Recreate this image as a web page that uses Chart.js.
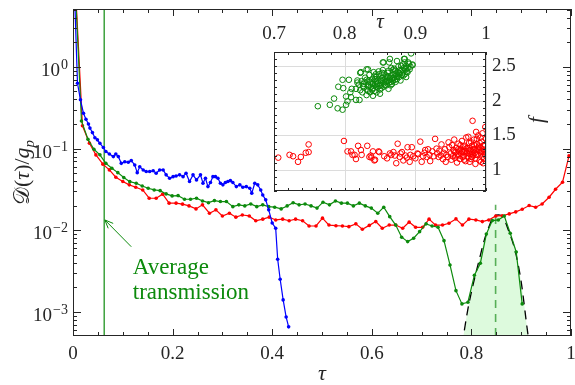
<!DOCTYPE html>
<html>
<head>
<meta charset="utf-8">
<script src="https://cdn.jsdelivr.net/npm/chart.js@4.4.1/dist/chart.umd.min.js"></script>
<style>
  html, body { margin: 0; padding: 0; background: #fff; }
  #wrap { position: relative; width: 575px; height: 385px; }
  #wrap canvas { position: absolute; left: 0; top: 0; }
</style>
</head>
<body>
<div id="wrap">
  <canvas id="main" width="575" height="385"></canvas>
  <canvas id="inset" width="575" height="385"></canvas>
</div>
<script>
// main panel data
const blueTau = [0.003, 0.009, 0.015, 0.021, 0.026, 0.031, 0.034, 0.039, 0.044, 0.049, 0.054, 0.061, 0.066, 0.073,
  0.081, 0.086, 0.091, 0.097, 0.104, 0.111, 0.117, 0.124, 0.129, 0.134, 0.141, 0.147, 0.154, 0.161, 0.167, 0.174,
  0.181, 0.187, 0.194, 0.201, 0.207, 0.214, 0.221, 0.227, 0.234, 0.241, 0.248, 0.256, 0.261, 0.266, 0.271, 0.276,
  0.281, 0.286, 0.291, 0.296, 0.301, 0.306, 0.311, 0.316, 0.321, 0.328, 0.335, 0.341, 0.348, 0.355, 0.359, 0.365,
  0.371, 0.377, 0.381, 0.387, 0.393, 0.400, 0.407, 0.411, 0.416, 0.422, 0.428, 0.433];
const blueVal = [8, 0.63, 0.395, 0.271, 0.229, 0.200, 0.178, 0.157, 0.136, 0.128, 0.116, 0.103, 0.092, 0.086,
  0.0798, 0.086, 0.0798, 0.066, 0.069, 0.068, 0.0713, 0.063, 0.0508, 0.060, 0.0548, 0.0524, 0.0524, 0.0535, 0.050, 0.0548,
  0.0548, 0.0477, 0.0434, 0.0454, 0.0463, 0.0477, 0.0454, 0.050, 0.0395, 0.0477, 0.0414, 0.0477, 0.0377, 0.0434, 0.0343, 0.0384,
  0.0454, 0.0454, 0.0434, 0.0377, 0.0360, 0.0384, 0.0395, 0.0406, 0.0384, 0.0343, 0.0360, 0.0337, 0.0343, 0.0327, 0.0285, 0.0377,
  0.0360, 0.0312, 0.0271, 0.0236, 0.0178, 0.0123, 0.0106, 0.00443, 0.00252, 0.00141, 0.00087, 0.00066];

const greenTau = [0.005, 0.017, 0.030, 0.042, 0.054, 0.066, 0.078, 0.090, 0.102, 0.114, 0.127, 0.139, 0.151, 0.163, 0.175,
  0.187, 0.199, 0.211, 0.224, 0.236, 0.248, 0.260, 0.272, 0.284, 0.296, 0.308, 0.321, 0.333, 0.345, 0.357, 0.369,
  0.381, 0.393, 0.405, 0.418, 0.430, 0.442, 0.454, 0.466, 0.478, 0.490, 0.502, 0.515, 0.527, 0.539, 0.551, 0.563,
  0.575, 0.587, 0.599, 0.612, 0.624, 0.636, 0.648, 0.660, 0.672, 0.684, 0.696, 0.709, 0.721, 0.733, 0.745, 0.757,
  0.769, 0.781, 0.793, 0.806, 0.818, 0.830, 0.842, 0.854, 0.866, 0.878, 0.890, 0.902];
const greenVal = [8, 0.218, 0.130, 0.098, 0.084, 0.066, 0.0575, 0.0508, 0.0442, 0.0394, 0.0377, 0.0349, 0.0327, 0.0312, 0.0306,
  0.0279, 0.0264, 0.0266, 0.0240, 0.0240, 0.0247, 0.0229, 0.0218, 0.0231, 0.0225, 0.0225, 0.0195, 0.0205, 0.0199, 0.0210, 0.0195,
  0.0205, 0.0195, 0.0192, 0.0183, 0.0199, 0.0218, 0.0205, 0.0210, 0.0199, 0.0187, 0.0221, 0.0205, 0.0229, 0.0215, 0.0215, 0.0199,
  0.0215, 0.0199, 0.0187, 0.0162, 0.0192, 0.0147, 0.0116, 0.00824, 0.00728, 0.0080, 0.00964, 0.0120, 0.0113, 0.0109, 0.00748, 0.00377,
  0.00183, 0.00126, 0.00132, 0.00282, 0.00396, 0.0090, 0.01315, 0.0134, 0.0150, 0.0092, 0.00544, 0.00126];

const redTau = [0.005, 0.019, 0.033, 0.046, 0.060, 0.073, 0.086, 0.100, 0.113, 0.126, 0.140, 0.153, 0.167, 0.180, 0.193,
  0.207, 0.220, 0.233, 0.247, 0.260, 0.274, 0.287, 0.300, 0.314, 0.327, 0.340, 0.354, 0.367, 0.381, 0.394, 0.407,
  0.421, 0.434, 0.447, 0.461, 0.474, 0.488, 0.501, 0.514, 0.528, 0.541, 0.554, 0.568, 0.581, 0.595, 0.608, 0.621,
  0.635, 0.648, 0.662, 0.675, 0.688, 0.702, 0.715, 0.728, 0.742, 0.755, 0.769, 0.782, 0.795, 0.809, 0.822, 0.835,
  0.849, 0.862, 0.876, 0.889, 0.902, 0.916, 0.929, 0.942, 0.956, 0.969, 0.983, 0.996];
const redVal = [9, 0.190, 0.1165, 0.0837, 0.0645, 0.0549, 0.0446, 0.0395, 0.0360, 0.0337, 0.0312, 0.0247, 0.0247, 0.0277, 0.0215,
  0.0215, 0.0209, 0.0199, 0.0183, 0.0205, 0.0162, 0.0178, 0.0150, 0.0162, 0.0145, 0.0154, 0.0150, 0.0131, 0.0137, 0.0145, 0.0134,
  0.0137, 0.0131, 0.0137, 0.0131, 0.0113, 0.0113, 0.0141, 0.0116, 0.0114, 0.0113, 0.0111, 0.0120, 0.0103, 0.0115, 0.0128, 0.0106,
  0.0116, 0.0116, 0.0106, 0.0126, 0.0109, 0.0109, 0.0137, 0.0116, 0.0116, 0.0122, 0.0138, 0.0116, 0.0137, 0.0134, 0.0128, 0.0134,
  0.0150, 0.0151, 0.0159, 0.0168, 0.0181, 0.0201, 0.0192, 0.0210, 0.0254, 0.0318, 0.0388, 0.0814];

// dashed fit around the peak
const fitTau = [0.776, 0.784, 0.7926, 0.804, 0.814, 0.826, 0.8374, 0.843, 0.8486, 0.855, 0.862, 0.8754, 0.8874, 0.8994, 0.914, 0.922];
const fitVal = [2.6e-4, 5.1e-4, 1.06e-3, 2.25e-3, 3.96e-3, 7.63e-3, 0.0120, 0.0143, 0.0154, 0.0155, 0.0149, 0.00964, 0.00575, 0.00247, 5.1e-4, 2.5e-4];

const avgTau = 0.0626;
const peakTau = 0.8486;
const peakLineTop = 0.0205;
const yMin = 5.1e-4;
const yMax = 5.1;

const xTickVals = [0, 0.2, 0.4, 0.6, 0.8, 1];
const xTickText = ['0', '0.2', '0.4', '0.6', '0.8', '1'];
const yTickVals = [1, 0.1, 0.01, 0.001];
const yTickExp = ['0', '\u22121', '\u22122', '\u22123'];

// annotation (data coordinates)
const arrowFrom = [0.117, 0.0063];
const arrowTo = [0.064, 0.0134];
const noteTau = 0.12;
const noteLines = ['Average', 'transmission'];
const noteVals = [0.00348, 0.00172];

// inset data
const insetGreenTau = [0.762, 0.779, 0.785, 0.790, 0.797, 0.791, 0.798, 0.797, 0.806, 0.802, 0.804, 0.802, 0.808, 0.810, 0.809,
  0.816, 0.821, 0.816, 0.818, 0.818, 0.822, 0.823, 0.826, 0.831, 0.833, 0.840, 0.850, 0.854, 0.855, 0.863, 0.864, 0.874,
  0.884, 0.885, 0.890, 0.896, 0.896, 0.887, 0.894,
  0.825, 0.827, 0.828, 0.829, 0.831, 0.832, 0.833, 0.834, 0.835, 0.836, 0.837, 0.838, 0.839, 0.840, 0.841, 0.842, 0.843,
  0.844, 0.845, 0.846, 0.847, 0.848, 0.849, 0.850, 0.851, 0.852, 0.853, 0.854, 0.855, 0.856, 0.857, 0.858, 0.859, 0.860,
  0.861, 0.862, 0.863, 0.864, 0.865, 0.866, 0.867, 0.868, 0.869, 0.870, 0.871, 0.872, 0.873, 0.874, 0.875, 0.876, 0.877,
  0.878, 0.879, 0.880, 0.881, 0.882, 0.883, 0.884, 0.885, 0.886, 0.887, 0.888, 0.889, 0.891, 0.892, 0.893,
  0.836, 0.840, 0.843, 0.846, 0.849, 0.852, 0.854, 0.857, 0.860, 0.863, 0.866, 0.869, 0.872, 0.875, 0.878, 0.842, 0.848,
  0.856, 0.862, 0.868, 0.834, 0.839, 0.845, 0.851, 0.858, 0.865, 0.871, 0.877, 0.883, 0.889, 0.827, 0.831, 0.833, 0.844,
  0.853, 0.861, 0.870, 0.880, 0.885, 0.822, 0.824, 0.820];
const insetGreenF = [1.92, 1.94, 2.03, 1.89, 1.87, 2.20, 2.18, 2.30, 2.30, 2.06, 1.99, 1.94, 2.12, 2.17, 2.05,
  2.01, 2.01, 2.17, 2.26, 2.29, 2.40, 2.41, 2.21, 2.45, 2.45, 2.07, 2.10, 2.55, 2.55, 2.55, 2.60, 2.57,
  2.60, 2.60, 2.55, 2.51, 2.52, 2.34, 2.68,
  2.12, 2.19, 2.27, 2.33, 2.08, 2.16, 2.23, 2.29, 2.37, 2.12, 2.20, 2.25, 2.31, 2.18, 2.41, 2.14, 2.22,
  2.28, 2.34, 2.19, 2.26, 2.30, 2.38, 2.16, 2.23, 2.28, 2.33, 2.44, 2.20, 2.25, 2.31, 2.36, 2.22, 2.28,
  2.40, 2.17, 2.26, 2.32, 2.35, 2.47, 2.24, 2.29, 2.38, 2.33, 2.43, 2.27, 2.36, 2.31, 2.41, 2.49, 2.34,
  2.39, 2.29, 2.44, 2.37, 2.52, 2.42, 2.47, 2.38, 2.45, 2.50, 2.42, 2.47, 2.53, 2.45, 2.49,
  2.27, 2.24, 2.31, 2.24, 2.21, 2.18, 2.29, 2.22, 2.34, 2.30, 2.27, 2.33, 2.39, 2.35, 2.44, 2.35, 2.42,
  2.39, 2.43, 2.44, 2.20, 2.16, 2.12, 2.30, 2.27, 2.22, 2.30, 2.40, 2.36, 2.41, 2.24, 2.30, 2.14, 2.38,
  2.40, 2.35, 2.46, 2.50, 2.55, 2.15, 2.28, 2.23];

const insetRedTau = [0.706, 0.722, 0.727, 0.734, 0.738, 0.745, 0.749, 0.749,
  0.799, 0.804, 0.809, 0.811, 0.814, 0.816, 0.819, 0.823, 0.824, 0.832, 0.835, 0.837, 0.838, 0.840, 0.842, 0.843, 0.848,
  0.849, 0.856, 0.860, 0.864, 0.866, 0.869, 0.871, 0.873, 0.875, 0.878, 0.879, 0.881, 0.883, 0.886, 0.888, 0.889, 0.892,
  0.893, 0.895, 0.897, 0.900, 0.903, 0.904, 0.907, 0.909, 0.911, 0.913, 0.914, 0.916, 0.918, 0.920, 0.921, 0.924, 0.926,
  0.928, 0.930, 0.931, 0.933, 0.934, 0.936, 0.937, 0.939, 0.940, 0.942, 0.944, 0.946, 0.948, 0.947, 0.943,
  0.950, 0.951, 0.952, 0.953, 0.954, 0.955, 0.956, 0.957, 0.958, 0.959, 0.960, 0.961, 0.962, 0.963, 0.964, 0.965, 0.966,
  0.967, 0.968, 0.969, 0.970, 0.971, 0.972, 0.973, 0.974, 0.975, 0.976, 0.977, 0.978, 0.979, 0.980, 0.981, 0.981, 0.982,
  0.983, 0.984, 0.985, 0.986, 0.987, 0.988, 0.989, 0.990, 0.991, 0.992, 0.993, 0.994, 0.995, 0.996, 0.996, 0.997, 0.998,
  0.999, 0.999, 1.000, 1.000,
  0.962, 0.966, 0.970, 0.974, 0.978, 0.982, 0.986, 0.990, 0.994, 0.998, 0.964, 0.968, 0.972, 0.976, 0.980, 0.984, 0.988,
  0.992, 0.996, 0.955, 0.958, 0.961, 0.975, 0.979, 0.983, 0.987, 0.991, 0.995, 0.997, 0.993, 0.985, 0.977, 0.969, 0.986, 0.992];
const insetRedF = [1.18, 1.22, 1.20, 1.12, 1.19, 1.25, 1.26, 1.37,
  1.42, 1.27, 1.27, 1.22, 1.22, 1.16, 1.35, 1.29, 1.22, 1.35, 1.19, 1.21, 1.18, 1.27, 1.14, 1.15, 1.27,
  1.26, 1.20, 1.17, 1.24, 1.22, 1.26, 1.21, 1.10, 1.38, 1.19, 1.24, 1.26, 1.14, 1.21, 1.18, 1.33, 1.12,
  1.22, 1.33, 1.20, 1.17, 1.24, 1.23, 1.41, 1.12, 1.20, 1.25, 1.29, 1.19, 1.30, 1.22, 1.13, 1.27, 1.20,
  1.45, 1.31, 1.24, 1.19, 1.28, 1.21, 1.37, 1.16, 1.25, 1.30, 1.22, 1.19, 1.33, 1.40, 1.12,
  1.24, 1.15, 1.36, 1.20, 1.29, 1.44, 1.18, 1.26, 1.32, 1.11, 1.22, 1.38, 1.27, 1.16, 1.30, 1.24, 1.42,
  1.19, 1.34, 1.21, 1.28, 1.13, 1.47, 1.25, 1.32, 1.18, 1.39, 1.23, 1.29, 1.16, 1.35, 1.71, 1.26, 1.21,
  1.44, 1.31, 1.17, 1.27, 1.37, 1.22, 1.50, 1.29, 1.14, 1.33, 1.24, 1.41, 1.19, 1.30, 1.10, 1.26, 1.36,
  1.62, 1.21, 1.45, 1.28,
  1.21, 1.27, 1.35, 1.20, 1.24, 1.30, 1.22, 1.34, 1.27, 1.23, 1.36, 1.26, 1.31, 1.28, 1.19, 1.25, 1.31,
  1.27, 1.35, 1.27, 1.21, 1.30, 1.48, 1.40, 1.36, 1.45, 1.39, 1.53, 1.16, 1.12, 1.09, 1.12, 1.15, 1.55, 1.47];

const insetXTicks = [0.7, 0.8, 0.9, 1];
const insetXText = ['0.7', '0.8', '0.9', '1'];
const insetYTicks = [1, 1.5, 2, 2.5];
const insetYText = ['1', '1.5', '2', '2.5'];

const FONT = "'Liberation Serif', 'Times New Roman', serif";
const INK = '#262626';
const GREEN = '#0c8a0c';

function toPoints(xs, ys) {
  return xs.map((x, i) => ({ x: x, y: ys[i] }));
}

function line(ctx, x1, y1, x2, y2) {
  ctx.beginPath();
  ctx.moveTo(x1, y1);
  ctx.lineTo(x2, y2);
  ctx.stroke();
}

// frame, inward ticks, labels and the note for the main panel
const mainDecor = {
  id: 'mainDecor',
  afterDraw(chart) {
    const ctx = chart.ctx;
    const a = chart.chartArea;
    const xs = chart.scales.x, ys = chart.scales.y;
    ctx.save();
    ctx.strokeStyle = INK;
    ctx.lineWidth = 1;
    ctx.strokeRect(a.left + 0.5, a.top + 0.5, a.right - a.left - 1, a.bottom - a.top - 1);

    for (let i = 0; i <= 20; i++) {
      const px = Math.round(xs.getPixelForValue(i * 0.05)) + 0.5;
      const len = i % 4 === 0 ? 7 : 4;
      line(ctx, px, a.bottom, px, a.bottom - len);
      line(ctx, px, a.top, px, a.top + len);
    }
    for (let e = -4; e <= 0; e++) {
      for (let m = 1; m < 10; m++) {
        const v = m * Math.pow(10, e);
        if (v < yMin || v > yMax) continue;
        const py = Math.round(ys.getPixelForValue(v)) + 0.5;
        const len = m === 1 ? 8 : 4;
        line(ctx, a.left, py, a.left + len, py);
        line(ctx, a.right, py, a.right - len, py);
      }
    }

    ctx.fillStyle = INK;
    ctx.font = '19px ' + FONT;
    ctx.textAlign = 'center';
    ctx.textBaseline = 'middle';
    xTickVals.forEach((v, i) => {
      ctx.fillText(xTickText[i], xs.getPixelForValue(v), a.bottom + 18);
    });

    ctx.textBaseline = 'alphabetic';
    yTickVals.forEach((v, i) => {
      const py = ys.getPixelForValue(v);
      ctx.font = '14px ' + FONT;
      ctx.textAlign = 'right';
      const sw = ctx.measureText(yTickExp[i]).width;
      ctx.fillText(yTickExp[i], a.left - 5, py + 2);
      ctx.font = '19px ' + FONT;
      ctx.fillText('10', a.left - 6 - sw, py + 9);
    });

    // axis titles
    ctx.textAlign = 'center';
    ctx.textBaseline = 'middle';
    ctx.font = 'italic 22px ' + FONT;
    ctx.fillText('\u03c4', (a.left + a.right) / 2, a.bottom + 38);

    const pieces = [
      { t: '\ud835\udc9f', f: '22px ' + FONT },
      { t: '(', f: '22px ' + FONT },
      { t: '\u03c4', f: 'italic 22px ' + FONT },
      { t: ')/', f: '22px ' + FONT },
      { t: 'g', f: 'italic 22px ' + FONT },
      { t: 'p', f: 'italic 15px ' + FONT, dy: 5 }
    ];
    let total = 0;
    pieces.forEach(p => { ctx.font = p.f; p.w = ctx.measureText(p.t).width; total += p.w; });
    ctx.save();
    ctx.translate(22, (a.top + a.bottom) / 2);
    ctx.rotate(-Math.PI / 2);
    ctx.textAlign = 'left';
    ctx.textBaseline = 'alphabetic';
    let cx = -total / 2;
    pieces.forEach(p => {
      ctx.font = p.f;
      ctx.fillText(p.t, cx, 7 + (p.dy || 0));
      cx += p.w;
    });
    ctx.restore();

    // note with arrow
    const x1 = xs.getPixelForValue(arrowFrom[0]), y1 = ys.getPixelForValue(arrowFrom[1]);
    const x2 = xs.getPixelForValue(arrowTo[0]), y2 = ys.getPixelForValue(arrowTo[1]);
    ctx.strokeStyle = GREEN;
    ctx.lineWidth = 1;
    line(ctx, x1, y1, x2, y2);
    const ang = Math.atan2(y1 - y2, x1 - x2);
    line(ctx, x2, y2, x2 + 9 * Math.cos(ang + 0.4), y2 + 9 * Math.sin(ang + 0.4));
    line(ctx, x2, y2, x2 + 9 * Math.cos(ang - 0.4), y2 + 9 * Math.sin(ang - 0.4));

    ctx.fillStyle = GREEN;
    ctx.font = '23px ' + FONT;
    ctx.textAlign = 'left';
    noteLines.forEach((s, i) => {
      ctx.fillText(s, xs.getPixelForValue(noteTau), ys.getPixelForValue(noteVals[i]));
    });
    ctx.restore();
  }
};

function lineSet(data, color) {
  return {
    data: data,
    borderColor: color,
    backgroundColor: color,
    borderWidth: 1.2,
    pointRadius: 1.8,
    pointBorderWidth: 0,
    fill: false,
    order: 1
  };
}

new Chart(document.getElementById('main'), {
  type: 'line',
  data: {
    datasets: [
      {
        data: toPoints(fitTau, fitVal),
        borderColor: '#000',
        borderWidth: 1.3,
        borderDash: [9, 6],
        backgroundColor: '#ddfadd',
        fill: 'start',
        pointRadius: 0,
        cubicInterpolationMode: 'monotone',
        order: 5
      },
      {
        data: [{ x: peakTau, y: yMin }, { x: peakTau, y: peakLineTop }],
        borderColor: 'rgba(40,150,40,0.75)',
        borderWidth: 1.6,
        borderDash: [8, 6],
        pointRadius: 0,
        fill: false,
        order: 4
      },
      {
        data: [{ x: avgTau, y: yMin }, { x: avgTau, y: yMax }],
        borderColor: GREEN,
        borderWidth: 1.2,
        pointRadius: 0,
        fill: false,
        order: 3
      },
      lineSet(toPoints(blueTau, blueVal), '#0000ff'),
      lineSet(toPoints(greenTau, greenVal), GREEN),
      lineSet(toPoints(redTau, redVal), '#ff0000')
    ]
  },
  options: {
    responsive: false,
    animation: false,
    devicePixelRatio: 1,
    layout: { padding: { top: 9, right: 3, left: 0, bottom: 0 } },
    plugins: { legend: { display: false }, tooltip: { enabled: false } },
    scales: {
      x: {
        type: 'linear', min: 0, max: 1,
        grid: { display: false }, border: { display: false }, ticks: { display: false },
        afterFit(s) { s.height = 49; }
      },
      y: {
        type: 'logarithmic', min: yMin, max: yMax,
        grid: { display: false }, border: { display: false }, ticks: { display: false },
        afterFit(s) { s.width = 73; }
      }
    }
  },
  plugins: [mainDecor]
});

// inset panel
const insetDecor = {
  id: 'insetDecor',
  beforeDatasetsDraw(chart) {
    const ctx = chart.ctx;
    const a = chart.chartArea;
    const xs = chart.scales.x, ys = chart.scales.y;
    ctx.save();
    ctx.fillStyle = '#fff';
    ctx.fillRect(a.left, a.top, a.right - a.left, a.bottom - a.top);
    ctx.strokeStyle = '#dcdcdc';
    ctx.lineWidth = 1;
    insetXTicks.forEach(v => {
      const px = Math.round(xs.getPixelForValue(v)) + 0.5;
      line(ctx, px, a.top, px, a.bottom);
    });
    insetYTicks.forEach(v => {
      const py = Math.round(ys.getPixelForValue(v)) + 0.5;
      line(ctx, a.left, py, a.right, py);
    });
    ctx.restore();
  },
  afterDraw(chart) {
    const ctx = chart.ctx;
    const a = chart.chartArea;
    const xs = chart.scales.x, ys = chart.scales.y;
    ctx.save();
    ctx.strokeStyle = INK;
    ctx.lineWidth = 1;
    ctx.strokeRect(a.left + 0.5, a.top + 0.5, a.right - a.left - 1, a.bottom - a.top - 1);
    for (let i = 0; i <= 15; i++) {
      const px = Math.round(xs.getPixelForValue(0.7 + i * 0.02)) + 0.5;
      line(ctx, px, a.bottom, px, a.bottom - 3);
      line(ctx, px, a.top, px, a.top + 3);
    }
    for (let i = 0; i <= 20; i++) {
      const py = Math.round(ys.getPixelForValue(0.7 + i * 0.1)) + 0.5;
      line(ctx, a.left, py, a.left + 3, py);
      line(ctx, a.right, py, a.right - 3, py);
    }
    ctx.fillStyle = INK;
    ctx.font = '19px ' + FONT;
    ctx.textAlign = 'center';
    ctx.textBaseline = 'middle';
    insetXTicks.forEach((v, i) => {
      ctx.fillText(insetXText[i], xs.getPixelForValue(v), a.top - 18);
    });
    ctx.textAlign = 'left';
    insetYTicks.forEach((v, i) => {
      ctx.fillText(insetYText[i], a.right + 6, ys.getPixelForValue(v));
    });
    ctx.font = 'italic 21px ' + FONT;
    ctx.textAlign = 'center';
    ctx.fillText('\u03c4', xs.getPixelForValue(0.85), a.top - 30);
    ctx.save();
    ctx.translate(a.right + 51, ys.getPixelForValue(1.72));
    ctx.rotate(-Math.PI / 2);
    ctx.fillText('f', 0, 0);
    ctx.restore();
    ctx.restore();
  }
};

function dotSet(data, color) {
  return {
    data: data,
    borderColor: color,
    backgroundColor: 'rgba(0,0,0,0)',
    borderWidth: 1,
    pointRadius: 2.8,
    showLine: false
  };
}

new Chart(document.getElementById('inset'), {
  type: 'scatter',
  data: {
    datasets: [
      dotSet(toPoints(insetGreenTau, insetGreenF), GREEN),
      dotSet(toPoints(insetRedTau, insetRedF), '#ff0000')
    ]
  },
  options: {
    responsive: false,
    animation: false,
    devicePixelRatio: 1,
    events: [],
    layout: { padding: { left: 274, top: 52, right: 89, bottom: 194 } },
    plugins: { legend: { display: false }, tooltip: { enabled: false } },
    scales: {
      x: { type: 'linear', min: 0.7, max: 1, display: false },
      y: { type: 'linear', min: 0.7, max: 2.7, display: false }
    }
  },
  plugins: [insetDecor]
});
</script>
</body>
</html>
